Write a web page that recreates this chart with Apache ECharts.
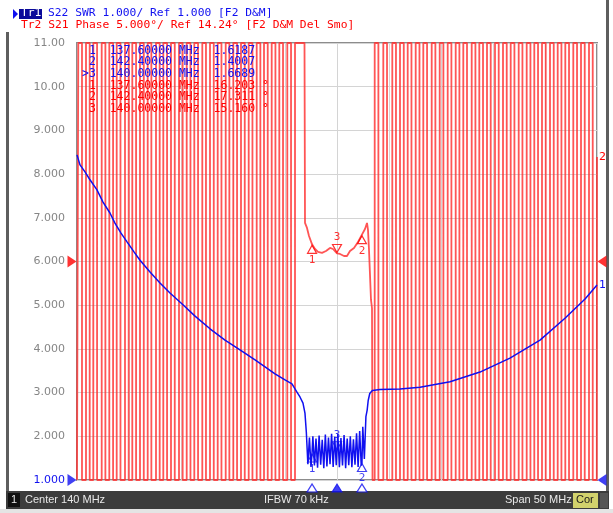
<!DOCTYPE html>
<html>
<head>
<meta charset="utf-8">
<script src="https://cdn.jsdelivr.net/npm/echarts@6/dist/echarts.min.js"></script>
<style>
  html, body { margin: 0; padding: 0; background: #ffffff; }
  #chart { width: 613px; height: 513px; }
</style>
</head>
<body>
<div id="chart"></div>
<script>
// Sweep setup
const centerMHz = 140;
const spanMHz = 50;

// Trace 1: S22 SWR, 1.000 per division, reference 1.000 at the bottom line
const swrRef = 1.0;
const swrPerDiv = 1.0;
// Trace 2: S21 phase, 5 deg per division, reference 14.24 deg at the middle line
const phaseRef = 14.24;
const phasePerDiv = 5.0;

const yTickLabels = ['1.000', '2.000', '3.000', '4.000', '5.000', '6.000',
                     '7.000', '8.000', '9.000', '10.00', '11.00'];

// S22 SWR trace
const swrFreq = [
  115.00, 115.29, 115.77, 116.25, 116.92, 117.50, 118.17, 118.65, 119.23, 119.81,
  120.48, 121.06, 122.02, 122.98, 123.94, 125.19, 126.35, 127.79, 129.23, 130.67,
  132.12, 133.08, 134.04, 135.00, 135.67, 136.15, 136.44, 136.73, 136.92, 137.05,
  137.20, 137.35, 137.50, 137.60, 137.68, 137.83, 137.98, 138.13, 138.28, 138.43,
  138.58, 138.73, 138.88, 139.03, 139.18, 139.33, 139.48, 139.63, 139.78, 139.93,
  140.00, 140.08, 140.23, 140.38, 140.53, 140.68, 140.83, 140.98, 141.13, 141.28,
  141.43, 141.58, 141.73, 141.88, 142.03, 142.18, 142.33, 142.40, 142.48, 142.63,
  142.78, 142.90, 143.00, 143.15, 143.40, 144.13, 146.06, 147.98, 150.87, 153.75,
  156.63, 159.52, 161.92, 163.85, 165.00
];
const swrValue = [
  8.44, 8.21, 8.05, 7.87, 7.64, 7.36, 7.11, 6.88, 6.65, 6.45,
  6.22, 6.03, 5.76, 5.51, 5.28, 5.01, 4.75, 4.46, 4.20, 3.98,
  3.75, 3.59, 3.43, 3.29, 3.20, 3.01, 2.90, 2.76, 2.53, 2.10,
  1.36, 1.97, 1.30, 1.6187, 2.00, 1.33, 1.95, 1.28, 2.02, 1.35,
  1.92, 1.27, 2.04, 1.31, 1.97, 1.36, 2.06, 1.30, 1.99, 1.34,
  1.6689, 2.05, 1.29, 1.96, 1.33, 2.03, 1.27, 1.95, 1.34, 2.00,
  1.29, 1.93, 1.35, 2.07, 1.30, 2.12, 1.33, 1.4007, 2.22, 1.48,
  2.45, 2.60, 2.82, 2.98, 3.05, 3.07, 3.08, 3.12, 3.25, 3.47,
  3.79, 4.20, 4.70, 5.14, 5.46
];

// S21 phase outside the passband wraps through the window many times:
// frequencies where the trace leaves the window at the top and where it falls back through it
const phaseRiseLow = [
  115.125, 115.865, 116.567, 117.375, 118.106, 118.817, 119.615, 120.317, 121.058, 121.798,
  122.596, 123.298, 124.038, 124.808, 125.548, 126.279, 127.048, 127.788, 128.529, 129.298,
  130.029, 130.769, 131.510, 132.279, 132.981, 133.721, 134.452, 135.221, 135.962
];
const phaseFallLow = [
  115.48, 116.22, 116.93, 117.73, 118.47, 119.18, 119.97, 120.68, 121.42, 122.15,
  122.95, 123.66, 124.40, 125.16, 125.91, 126.64, 127.40, 128.15, 128.89, 129.65,
  130.39, 131.13, 131.87, 132.63, 133.34, 134.08, 134.81, 135.58
];
const phaseRiseHigh = [
  143.625, 144.452, 145.317, 146.058, 146.798, 147.567, 148.298, 149.106, 149.875, 150.644,
  151.413, 152.144, 152.952, 153.683, 154.423, 155.192, 155.962, 156.702, 157.471, 158.240,
  158.971, 159.712, 160.481, 161.221, 161.952, 162.721, 163.462, 164.231
];
const phaseFallHigh = [
  143.98, 144.81, 145.67, 146.42, 147.16, 147.93, 148.66, 149.46, 150.23, 151.00,
  151.77, 152.50, 153.31, 154.04, 154.78, 155.55, 156.32, 157.06, 157.83, 158.60,
  159.33, 160.07, 160.84, 161.58, 162.31, 163.08, 163.82, 164.59
];
// Passband phase (deg), delay-compensated and smoothed
const passbandFreq = [
  136.875, 136.923, 137.115, 137.308, 137.600, 137.885, 138.173, 138.558, 138.942, 139.327,
  139.615, 140.000, 140.288, 140.673, 140.962, 141.250, 141.635, 142.019, 142.400, 142.692,
  142.885, 142.981, 143.077, 143.173, 143.269, 143.365, 143.413
];
const passbandPhase = [
  39.24, 18.65, 18.08, 17.16, 16.203, 15.67, 15.33, 15.22, 15.44, 15.79,
  15.67, 15.160, 15.10, 14.87, 14.87, 15.44, 15.79, 16.47, 17.311, 17.96,
  18.65, 17.85, 15.56, 12.70, 9.84, 8.92, -10.76
];
const phaseTailFreq = [164.98, 165.00];
const phaseTailValue = [-10.76, 26.2];

// Markers 1, 2, 3
const markerNames = ['1', '2', '3'];
const markerFreq = [137.6, 142.4, 140.0];
const markerSwr = [1.6187, 1.4007, 1.6689];
const markerPhase = [16.203, 17.311, 15.160];
const activeMarker = 2;

const fMin = centerMHz - spanMHz / 2;
const fMax = centerMHz + spanMHz / 2;
const swrMin = swrRef;
const swrMax = swrRef + 10 * swrPerDiv;
const phMin = phaseRef - 5 * phasePerDiv;
const phMax = phaseRef + 5 * phasePerDiv;

const BLUE = '#1010f0';
const RED = '#ff0000';
const MONO = '"DejaVu Sans Mono", "Liberation Mono", monospace';
const SANS = '"DejaVu Sans", "Liberation Sans", sans-serif';
const BAR_FONT = '11px "Liberation Sans", Arial, sans-serif';

// Build the phase polyline, held at the window edges when off-scale
const phaseData = [[fMin, phMin]];
phaseRiseLow.forEach((f, i) => {
  phaseData.push([f, phMin], [f, phMax]);
  if (i < phaseFallLow.length) phaseData.push([phaseFallLow[i], phMax], [phaseFallLow[i], phMin]);
});
passbandFreq.forEach((f, i) => phaseData.push([f, passbandPhase[i]]));
phaseRiseHigh.forEach((f, i) => {
  phaseData.push([f, phMin], [f, phMax], [phaseFallHigh[i], phMax], [phaseFallHigh[i], phMin]);
});
phaseTailFreq.forEach((f, i) => phaseData.push([f, phaseTailValue[i]]));

const swrData = swrFreq.map((f, i) => [f, swrValue[i]]);

function markerItems(values) {
  return markerFreq.map((f, i) => {
    const active = i === activeMarker;
    return {
      value: [f, values[i]],
      name: markerNames[i],
      symbolRotate: active ? 180 : 0,
      symbolOffset: active ? [0, -5] : [0, 5],
      label: { position: active ? 'top' : 'bottom', distance: 1 }
    };
  });
}

function markerSeries(values, color, axisIndex) {
  return {
    type: 'scatter',
    yAxisIndex: axisIndex,
    symbol: 'triangle',
    symbolSize: [9, 8],
    itemStyle: { color: 'rgba(255,255,255,0)', borderColor: color, borderWidth: 1.2 },
    label: {
      show: true, formatter: p => p.name, color: color,
      fontFamily: MONO, fontSize: 11
    },
    z: 5,
    data: markerItems(values)
  };
}

const chart = echarts.init(document.getElementById('chart'), null, { renderer: 'canvas' });

const headerLine1 = 'S22 SWR ' + swrPerDiv.toFixed(3) + '/ Ref ' + swrRef.toFixed(3) + ' [F2 D&M]';
const headerLine2 = 'Tr2 S21 Phase ' + phasePerDiv.toFixed(3) + '°/ Ref ' + phaseRef.toFixed(2) + '° [F2 D&M Del Smo]';

const tableRows = markerFreq.map((f, i) => ({
  swr: (i === activeMarker ? '>' : ' ') + markerNames[i] + '  ' + f.toFixed(5) + ' MHz  ' + markerSwr[i].toFixed(4),
  ph: ' ' + markerNames[i] + '  ' + f.toFixed(5) + ' MHz  ' + markerPhase[i].toFixed(3) + ' °'
}));

const graphics = [
  { type: 'rect', shape: { x: 6, y: 32, width: 3, height: 459 }, style: { fill: '#5e5e5e' }, silent: true },
  { type: 'rect', shape: { x: 606, y: 0, width: 3, height: 491 }, style: { fill: '#5e5e5e' }, silent: true },
  { type: 'rect', shape: { x: 6, y: 491, width: 603, height: 18 }, style: { fill: '#3c3c3c' }, silent: true },
  { type: 'rect', shape: { x: 0, y: 509, width: 613, height: 4 }, style: { fill: '#e4e4e4' }, silent: true },
  { type: 'rect', shape: { x: 8, y: 493, width: 12, height: 14 }, style: { fill: '#111111' }, silent: true },
  { type: 'text', left: 11, top: 494, style: { text: '1', fill: '#e8e8e8', font: BAR_FONT } },
  { type: 'text', left: 25, top: 494, style: { text: 'Center ' + centerMHz + ' MHz', fill: '#e8e8e8', font: BAR_FONT } },
  { type: 'text', left: 264, top: 494, style: { text: 'IFBW 70 kHz', fill: '#e8e8e8', font: BAR_FONT } },
  { type: 'text', left: 505, top: 494, style: { text: 'Span ' + spanMHz + ' MHz', fill: '#e8e8e8', font: BAR_FONT } },
  { type: 'rect', shape: { x: 573, y: 493, width: 25, height: 15 }, style: { fill: '#d2d26c' }, silent: true },
  { type: 'text', left: 576, top: 494, style: { text: 'Cor', fill: '#1a1a1a', font: BAR_FONT } },
  { type: 'rect', shape: { x: 600, y: 493, width: 8, height: 15 }, style: { fill: '#555555' }, silent: true },
  { type: 'polygon', shape: { points: [[13, 9], [13, 19], [18, 14]] }, style: { fill: BLUE }, silent: true },
  { type: 'rect', shape: { x: 19, y: 9, width: 23, height: 10 }, style: { fill: '#0a0a9a' }, silent: true },
  { type: 'text', left: 21, top: 7.5, style: { text: 'Tr1', fill: '#ffffff', font: '11.3px ' + MONO } },
  { type: 'text', left: 48, top: 7.5, style: { text: headerLine1, fill: BLUE, font: '11.3px ' + MONO } },
  { type: 'text', left: 21, top: 19.5, style: { text: headerLine2, fill: RED, font: '11.3px ' + MONO } }
];
tableRows.forEach((row, k) => {
  graphics.push({ type: 'text', left: 82, top: 45 + k * 11.5, z: 10,
    style: { text: row.swr, fill: BLUE, font: '11.5px ' + MONO } });
  graphics.push({ type: 'text', left: 82, top: 80 + k * 11.5, z: 10,
    style: { text: row.ph, fill: RED, font: '11.5px ' + MONO } });
});

const option = {
  animation: false,
  backgroundColor: '#ffffff',
  grid: {
    left: 77, right: 16, top: 43, bottom: 33,
    show: true, borderColor: '#8c8c8c', borderWidth: 2, backgroundColor: 'transparent'
  },
  xAxis: {
    type: 'value', min: fMin, max: fMax, interval: spanMHz / 10,
    axisLabel: { show: false }, axisTick: { show: false }, axisLine: { show: false },
    splitLine: { show: true, lineStyle: { color: '#d4d4d4', width: 1 } }
  },
  yAxis: [
    {
      type: 'value', min: swrMin, max: swrMax, interval: swrPerDiv,
      axisTick: { show: false }, axisLine: { show: false },
      splitLine: { show: true, lineStyle: { color: '#d4d4d4', width: 1 } },
      axisLabel: {
        margin: 12, color: '#868686', fontFamily: SANS, fontSize: 11,
        formatter: v => {
          const t = yTickLabels[Math.round((v - swrMin) / swrPerDiv)];
          return Math.abs(v - swrRef) < 1e-9 ? '{r|' + t + '}' : t;
        },
        rich: { r: { color: BLUE, fontFamily: SANS, fontSize: 11 } }
      }
    },
    {
      type: 'value', min: phMin, max: phMax, show: false,
      splitLine: { show: false }
    }
  ],
  graphic: graphics,
  series: [
    {
      type: 'line', yAxisIndex: 1, data: phaseData, showSymbol: false,
      lineStyle: { color: '#ff2a2a', width: 1.8, opacity: 0.8 }, clip: true, z: 2,
      endLabel: { show: true, formatter: '2', color: RED, fontFamily: SANS, fontSize: 11, distance: 2 }
    },
    {
      type: 'line', yAxisIndex: 0, data: swrData, showSymbol: false,
      lineStyle: { color: BLUE, width: 1.5 }, clip: true, z: 3,
      endLabel: { show: true, formatter: '1', color: BLUE, fontFamily: SANS, fontSize: 11, distance: 2 }
    },
    markerSeries(markerPhase, RED, 1),
    markerSeries(markerSwr, BLUE, 0),
    // marker positions under the frequency axis
    {
      type: 'scatter', yAxisIndex: 0, symbol: 'triangle', symbolSize: [10, 8], clip: false, z: 5,
      data: markerFreq.map((f, i) => ({
        value: [f, swrMin],
        symbolOffset: [0, 8],
        itemStyle: i === activeMarker
          ? { color: BLUE, borderColor: BLUE, borderWidth: 1 }
          : { color: '#ffffff', borderColor: BLUE, borderWidth: 1.2 }
      }))
    },
    // reference-level pointers at both sides
    {
      type: 'scatter', yAxisIndex: 1, symbol: 'triangle', symbolSize: [12, 9], clip: false, z: 5,
      itemStyle: { color: RED },
      data: [
        { value: [fMin, phaseRef], symbolRotate: -90, symbolOffset: [-5, 0] },
        { value: [fMax, phaseRef], symbolRotate: 90, symbolOffset: [5, 0] }
      ]
    },
    {
      type: 'scatter', yAxisIndex: 0, symbol: 'triangle', symbolSize: [12, 9], clip: false, z: 5,
      itemStyle: { color: BLUE },
      data: [
        { value: [fMin, swrRef], symbolRotate: -90, symbolOffset: [-5, 0] },
        { value: [fMax, swrRef], symbolRotate: 90, symbolOffset: [5, 0] }
      ]
    }
  ]
};

chart.setOption(option);
</script>
</body>
</html>
